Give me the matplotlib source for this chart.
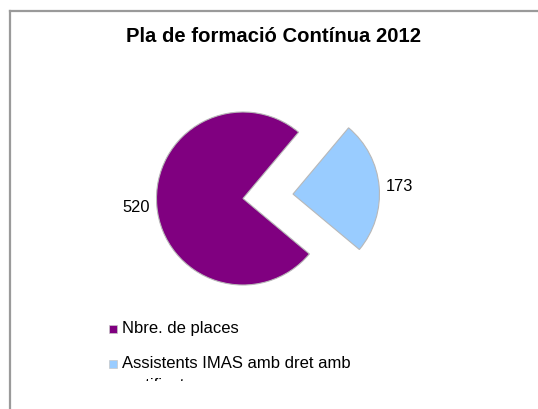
import matplotlib
matplotlib.use("Agg")
import matplotlib.pyplot as plt
from matplotlib.patches import Rectangle
from matplotlib.lines import Line2D

plt.rcParams['font.family'] = ['Liberation Sans', 'DejaVu Sans']

# dades
titol = "Pla de formació Contínua 2012"
etiquetes = ["Nbre. de places", "Assistents IMAS amb dret amb\ncertificat"]
valors = [520, 173]
colors = ["#800080", "#99CCFF"]

W, H = 538, 410
fig = plt.figure(figsize=(W / 100, H / 100), dpi=100)

# marc gris de l'area del grafic
fig.add_artist(Line2D([9.5 / W, 9.5 / W], [0, 1 - 12 / H], color="#9a9a9a", lw=1.6))
fig.add_artist(Line2D([9.5 / W, 1], [1 - 12 / H, 1 - 12 / H], color="#9a9a9a", lw=1.6))

fig.text(273.5 / W, 1 - 37 / H, titol, ha="center", va="center",
         fontsize=14.6, fontweight="bold")

# pastis: centre (243, 199.5) px, radi 86.5 px
r = 86.5
cx, cy = 243, H - 199.5
ax = fig.add_axes([(cx - 2 * r) / W, (cy - 2 * r) / H, 4 * r / W, 4 * r / H])
wedges, texts = ax.pie(valors, labels=[str(v) for v in valors], colors=colors,
                       startangle=50, explode=[0, 0.58], labeldistance=1.08,
                       wedgeprops=dict(edgecolor="#b8b8b8", linewidth=0.8),
                       textprops=dict(fontsize=11.8))
ax.set_xlim(-2, 2)
ax.set_ylim(-2, 2)
ax.set_aspect("equal")

# llegenda (retallada per sota, com a l'original)
clip = matplotlib.transforms.Bbox.from_extents(0, H - 381.5, W, H)
bases = [333, 368]
for lab, col, yb in zip(etiquetes, colors, bases):
    fig.add_artist(Rectangle((109 / W, (H - yb - 1) / H), 8 / W, 8 / H,
                             transform=fig.transFigure, facecolor=col,
                             edgecolor="#c8c8c8", lw=0.5))
    t = fig.text(122 / W, 1 - (yb - 12) / H, lab, ha="left", va="top",
                 fontsize=12, linespacing=1.6)
    t.set_clip_box(clip)
    t.set_clip_on(True)

fig.savefig("out.png", dpi=100)
